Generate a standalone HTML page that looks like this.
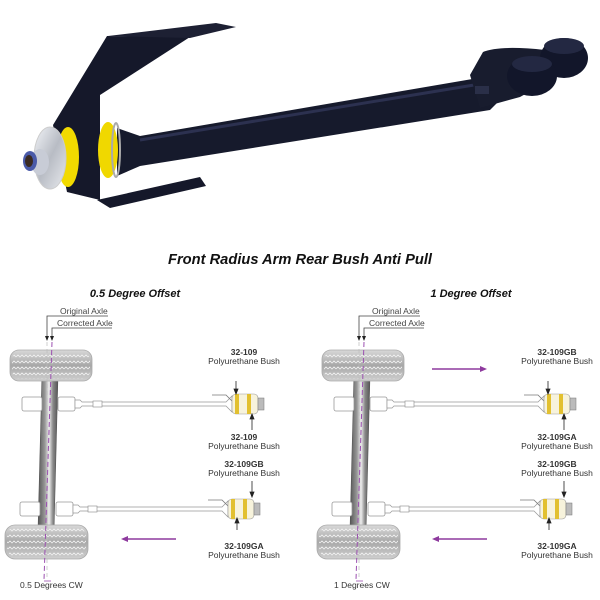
<!DOCTYPE html>
<html><head><meta charset="utf-8"><style>
html,body{margin:0;padding:0;background:#fff}
svg{display:block}
text{font-family:"Liberation Sans",sans-serif}
</style></head><body>
<svg width="600" height="600" viewBox="0 0 600 600" xmlns="http://www.w3.org/2000/svg">
<defs>
<linearGradient id="tire" x1="0" y1="0" x2="0" y2="1"><stop offset="0" stop-color="#d8d8d8"/><stop offset="0.5" stop-color="#a8a8a8"/><stop offset="1" stop-color="#cfcfcf"/></linearGradient>
<linearGradient id="beam" x1="0" y1="0" x2="1" y2="0"><stop offset="0" stop-color="#555"/><stop offset="0.35" stop-color="#999"/><stop offset="0.55" stop-color="#eee"/><stop offset="0.75" stop-color="#888"/><stop offset="1" stop-color="#555"/></linearGradient>
<linearGradient id="silver" x1="0" y1="0" x2="1" y2="1"><stop offset="0" stop-color="#f2f4f8"/><stop offset="0.5" stop-color="#b8bcc4"/><stop offset="1" stop-color="#e8eaee"/></linearGradient>
<pattern id="tread" width="8" height="6" patternUnits="userSpaceOnUse"><path d="M0 3 L2 1 L4 3 L6 1 L8 3" fill="none" stroke="#f0f0f0" stroke-width="0.8"/></pattern>
<g id="bush">
  <path d="M0 -2 L-6 -8 L-20 -8" fill="none" stroke="#777" stroke-width="0.8"/>
  <rect x="0" y="-9" width="26" height="20" rx="4" fill="#f7f3dc" stroke="#999" stroke-width="0.6"/>
  <rect x="3" y="-9" width="4" height="20" fill="#e2c030"/>
  <rect x="15" y="-9" width="4" height="20" fill="#e2c030"/>
  <rect x="26" y="-5" width="6" height="12" fill="#bbb" stroke="#777" stroke-width="0.5"/>
</g>
<g id="diag">
  <text x="60" y="314" font-size="8.5" fill="#444">Original Axle</text>
  <polyline points="108,316 47,316 47,340" fill="none" stroke="#444" stroke-width="0.8"/>
  <path d="M45 336 L47 341 L49 336Z" fill="#222"/>
  <text x="57" y="326" font-size="8.5" fill="#444">Corrected Axle</text>
  <polyline points="112,328 52,328 52,340" fill="none" stroke="#444" stroke-width="0.8"/>
  <path d="M50 336 L52 341 L54 336Z" fill="#222"/>
  <path d="M42 375 L58 375 L54 530 L38 530Z" fill="url(#beam)" stroke="#555" stroke-width="0.6"/>
  <rect x="22" y="397" width="20" height="14" rx="2" fill="#fff" stroke="#999" stroke-width="0.8"/>
  <rect x="58" y="397" width="17" height="14" rx="2" fill="#fff" stroke="#999" stroke-width="0.8"/>
  <path d="M75 400 L80 400 L82 402 L226 402 L232 396 L232 412 L226 406 L82 406 L80 408 L75 408Z" fill="#fff" stroke="#999" stroke-width="0.7"/>
  <rect x="93" y="401" width="9" height="6" fill="#fff" stroke="#888" stroke-width="0.6"/>
  <use href="#bush" x="232" y="403"/>
  <rect x="20" y="502" width="20" height="14" rx="2" fill="#fff" stroke="#999" stroke-width="0.8"/>
  <rect x="56" y="502" width="17" height="14" rx="2" fill="#fff" stroke="#999" stroke-width="0.8"/>
  <path d="M73 505 L78 505 L80 507 L222 507 L228 501 L228 517 L222 511 L80 511 L78 513 L73 513Z" fill="#fff" stroke="#999" stroke-width="0.7"/>
  <rect x="88" y="506" width="9" height="6" fill="#fff" stroke="#888" stroke-width="0.6"/>
  <use href="#bush" x="228" y="508"/>
  <rect x="10" y="350" width="82" height="31" rx="9" fill="url(#tire)" stroke="#aaa" stroke-width="0.8"/>
  <rect x="12" y="352" width="78" height="27" rx="8" fill="url(#tread)"/>
  <rect x="5" y="525" width="83" height="34" rx="10" fill="url(#tire)" stroke="#aaa" stroke-width="0.8"/>
  <rect x="7" y="527" width="79" height="30" rx="9" fill="url(#tread)"/>
  <line x1="47" y1="342" x2="47" y2="580" stroke="#bbb" stroke-width="0.7" stroke-dasharray="4,3"/>
  <line x1="52" y1="342" x2="44" y2="580" stroke="#9b4fb0" stroke-width="1" stroke-dasharray="5,3"/>
  <path d="M44 581 L51 581" stroke="#9b4fb0" stroke-width="0.8"/>
</g>
</defs>

<!-- photo -->
<polygon points="107,36 190,37 100,95 100,200 67,192 53,125" fill="#15182a"/>
<polygon points="108,36 216,23 236,27 190,38" fill="#1d2033"/>
<polygon points="97,200 200,177 206,186 110,208" fill="#15182a"/>
<path d="M117,128 L140,136 L490,76 L500,100 L490,110 L140,166 L117,176Z" fill="#161a2c"/>
<path d="M140,140 L480,84" stroke="#2c3150" stroke-width="3"/>
<path d="M483,52 Q500,45 545,50 L560,75 L520,97 L480,108 L470,75Z" fill="#181c2e"/>
<ellipse cx="564" cy="58" rx="24" ry="20" fill="#12162a"/>
<ellipse cx="564" cy="46" rx="20" ry="8" fill="#232842"/>
<ellipse cx="532" cy="76" rx="25" ry="20" fill="#12162a"/>
<ellipse cx="532" cy="64" rx="20" ry="8" fill="#232842"/>
<rect x="475" y="86" width="14" height="8" fill="#2a2f48"/>
<ellipse cx="108" cy="150" rx="10" ry="28" fill="#f0d800"/>
<ellipse cx="116" cy="150" rx="4" ry="27" fill="none" stroke="#aaa" stroke-width="2"/>
<ellipse cx="68" cy="157" rx="11" ry="30" fill="#f2da00"/>
<ellipse cx="50" cy="158" rx="16" ry="31" fill="url(#silver)" stroke="#ccc"/>
<ellipse cx="40" cy="162" rx="9" ry="13" fill="#c8ccd6"/>
<ellipse cx="30" cy="161" rx="7" ry="10" fill="#4a5aa8"/>
<ellipse cx="29" cy="161" rx="4" ry="6" fill="#3a2a22"/>

<text x="300" y="264" font-size="15" font-weight="bold" font-style="italic" text-anchor="middle" textLength="264" lengthAdjust="spacingAndGlyphs" fill="#111">Front Radius Arm Rear Bush Anti Pull</text>

<text x="135" y="297" font-size="11" font-weight="bold" font-style="italic" text-anchor="middle" fill="#111">0.5 Degree Offset</text>
<use href="#diag"/>
<text x="20" y="588" font-size="8.5" fill="#333">0.5 Degrees CW</text>
<g font-size="8.5" text-anchor="middle" fill="#333">
  <text x="244" y="355" font-weight="bold">32-109</text><text x="244" y="364">Polyurethane Bush</text>
  <text x="244" y="440" font-weight="bold">32-109</text><text x="244" y="449">Polyurethane Bush</text>
  <text x="244" y="467" font-weight="bold">32-109GB</text><text x="244" y="476">Polyurethane Bush</text>
  <text x="244" y="549" font-weight="bold">32-109GA</text><text x="244" y="558">Polyurethane Bush</text>
</g>
<g stroke="#222" stroke-width="0.8" fill="#222">
  <line x1="236" y1="381" x2="236" y2="391"/><path d="M234 389 L236 394 L238 389Z"/>
  <line x1="252" y1="430" x2="252" y2="418"/><path d="M250 419 L252 414 L254 419Z"/>
  <line x1="252" y1="481" x2="252" y2="494"/><path d="M250 492 L252 497 L254 492Z"/>
  <line x1="237" y1="530" x2="237" y2="522"/><path d="M235 523 L237 518 L239 523Z"/>
</g>
<line x1="176" y1="539" x2="127" y2="539" stroke="#8e3a9e" stroke-width="1.5"/><path d="M128 536 L121 539 L128 542Z" fill="#8e3a9e"/>

<text x="471" y="297" font-size="11" font-weight="bold" font-style="italic" text-anchor="middle" fill="#111">1 Degree Offset</text>
<g transform="translate(312,0)"><use href="#diag"/></g>
<text x="334" y="588" font-size="8.5" fill="#333">1 Degrees CW</text>
<g font-size="8.5" text-anchor="middle" fill="#333">
  <text x="557" y="355" font-weight="bold">32-109GB</text><text x="557" y="364">Polyurethane Bush</text>
  <text x="557" y="440" font-weight="bold">32-109GA</text><text x="557" y="449">Polyurethane Bush</text>
  <text x="557" y="467" font-weight="bold">32-109GB</text><text x="557" y="476">Polyurethane Bush</text>
  <text x="557" y="549" font-weight="bold">32-109GA</text><text x="557" y="558">Polyurethane Bush</text>
</g>
<g stroke="#222" stroke-width="0.8" fill="#222">
  <line x1="548" y1="381" x2="548" y2="391"/><path d="M546 389 L548 394 L550 389Z"/>
  <line x1="564" y1="430" x2="564" y2="418"/><path d="M562 419 L564 414 L566 419Z"/>
  <line x1="564" y1="481" x2="564" y2="494"/><path d="M562 492 L564 497 L566 492Z"/>
  <line x1="549" y1="530" x2="549" y2="522"/><path d="M547 523 L549 518 L551 523Z"/>
</g>
<line x1="432" y1="369" x2="481" y2="369" stroke="#8e3a9e" stroke-width="1.5"/><path d="M480 366 L487 369 L480 372Z" fill="#8e3a9e"/>
<line x1="487" y1="539" x2="438" y2="539" stroke="#8e3a9e" stroke-width="1.5"/><path d="M439 536 L432 539 L439 542Z" fill="#8e3a9e"/>
</svg>
</body></html>
